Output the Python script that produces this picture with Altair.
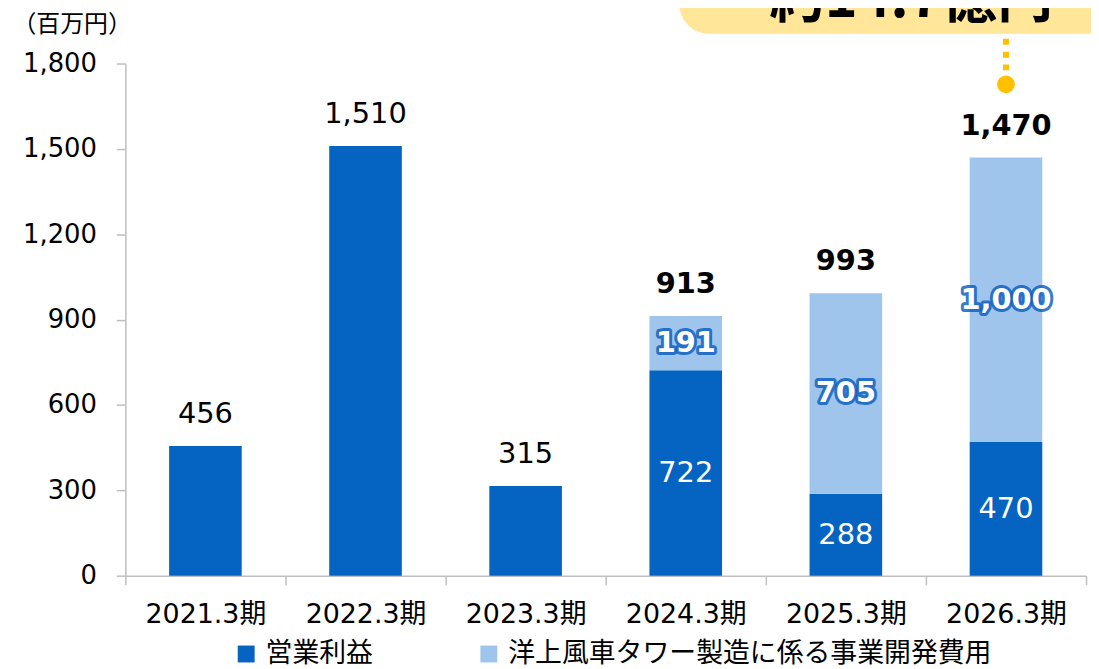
import altair as alt
import pandas as pd

categories = ["2021.3期", "2022.3期", "2023.3期", "2024.3期", "2025.3期", "2026.3期"]
operating_profit = [456, 1510, 315, 722, 288, 470]
dev_cost = [0, 0, 0, 191, 705, 1000]
totals = [456, 1510, 315, 913, 993, 1470]
series_names = ["営業利益", "洋上風車タワー製造に係る事業開発費用"]
series_colors = ["#0563C1", "#A0C5ED"]
y_ticks = [0, 300, 600, 900, 1200, 1500, 1800]
y_unit = "（百万円）"
callout_text = "約14.7億円"
callout_category = "2026.3期"
marker_value = 1727
dots_from = 1887
dots_to = 1776

FONT = "DejaVu Sans, Noto Sans CJK JP"
CJK = "Noto Sans CJK JP, DejaVu Sans"
DARK, LIGHT = series_colors
YELLOW = "#FFC000"

rows = []
for i, c in enumerate(categories):
    op = operating_profit[i]
    dc = dev_cost[i]
    rows.append(dict(cat=c, series=series_names[0], start=0, end=op, value=op,
                     stacked=dc > 0))
    if dc > 0:
        rows.append(dict(cat=c, series=series_names[1], start=op, end=op + dc,
                         value=dc, stacked=True))
seg = pd.DataFrame(rows)
seg["mid"] = (seg["start"] + seg["end"]) / 2
seg["label"] = seg["value"].map(lambda v: f"{v:,}")

tops = pd.DataFrame({
    "cat": categories,
    "total": totals,
    "label": [f"{v:,}" for v in totals],
    "stacked": [d > 0 for d in dev_cost],
})

anno = pd.DataFrame({"cat": [callout_category], "y1": [dots_from], "y2": [dots_to],
                     "dot": [marker_value], "text": [callout_text]})

x_enc = alt.X("cat:N", sort=categories, title=None,
              scale=alt.Scale(paddingInner=0, paddingOuter=0),
              axis=alt.Axis(labelFontSize=27, labelFont=FONT, labelColor="#000000",
                            labelAngle=0, labelPadding=17, tickBand="extent",
                            tickSize=9, tickColor="#BFBFBF", domainColor="#BFBFBF",
                            domainWidth=1.5, tickWidth=1.5))
y_scale = alt.Scale(domain=[0, 1800], nice=False)

bars = alt.Chart(seg).mark_bar(size=73).encode(
    x=x_enc,
    y=alt.Y("start:Q", scale=y_scale, title=y_unit,
            axis=alt.Axis(values=y_ticks, format=",.0f", labelFontSize=26, labelFont=FONT,
                          labelColor="#000000", tickSize=9, labelPadding=20,
                          tickColor="#BFBFBF", domainColor="#BFBFBF", grid=False,
                          domainWidth=1.5, tickWidth=1.5,
                          titleAngle=0, titleX=-114, titleY=-39, titleAlign="left",
                          titleBaseline="middle", titleFontSize=24,
                          titleFontWeight="normal", titleFont=CJK,
                          titleColor="#000000")),
    y2="end:Q",
    color=alt.Color("series:N", scale=alt.Scale(domain=series_names, range=series_colors),
                    legend=alt.Legend(title=None, orient="none", legendX=108, legendY=580,
                                      direction="horizontal", symbolType="square",
                                      symbolSize=289, symbolStrokeWidth=0,
                                      labelFontSize=27, labelFont=CJK, labelLimit=1000,
                                      labelColor="#000000", columnPadding=103,
                                      labelOffset=6, symbolOpacity=1)),
)

top_plain = alt.Chart(tops).transform_filter("!datum.stacked").mark_text(
    fontSize=29, font=FONT, color="#000000", dy=-23, baseline="alphabetic"
).encode(x=alt.X("cat:N", sort=categories), y=alt.Y("total:Q", scale=y_scale), text="label:N")

top_bold = alt.Chart(tops).transform_filter("datum.stacked").mark_text(
    fontSize=29, font=FONT, fontWeight="bold", color="#000000", dy=-23, baseline="alphabetic"
).encode(x=alt.X("cat:N", sort=categories), y=alt.Y("total:Q", scale=y_scale), text="label:N")

inner_dark = alt.Chart(seg).transform_filter(
    f"datum.stacked && datum.series == '{series_names[0]}'"
).mark_text(fontSize=29, font=FONT, color="#FFFFFF", baseline="middle").encode(
    x=alt.X("cat:N", sort=categories), y=alt.Y("mid:Q", scale=y_scale), text="label:N")

light_sel = f"datum.series == '{series_names[1]}'"
inner_light_glow = alt.Chart(seg).transform_filter(light_sel).mark_text(
    fontSize=29, font=FONT, fontWeight="bold", color="#0F62C4", stroke="#0F62C4",
    strokeWidth=6, strokeOpacity=0.85, strokeJoin="round", baseline="middle"
).encode(x=alt.X("cat:N", sort=categories), y=alt.Y("mid:Q", scale=y_scale), text="label:N")
inner_light = alt.Chart(seg).transform_filter(light_sel).mark_text(
    fontSize=29, font=FONT, fontWeight="bold", color="#FFFFFF", baseline="middle"
).encode(x=alt.X("cat:N", sort=categories), y=alt.Y("mid:Q", scale=y_scale), text="label:N")

dots = alt.Chart(anno).mark_rule(color=YELLOW, strokeWidth=6, strokeDash=[6, 7]).encode(
    x=alt.X("cat:N", sort=categories), y=alt.Y("y1:Q", scale=y_scale), y2="y2:Q")
marker = alt.Chart(anno).mark_point(filled=True, shape="circle", size=320, color=YELLOW,
                                    opacity=1).encode(
    x=alt.X("cat:N", sort=categories), y=alt.Y("dot:Q", scale=y_scale))

box = alt.Chart(anno).mark_rect(color="#FFE699", cornerRadius=30).encode(
    x=alt.value(557), x2=alt.value(1060), y=alt.value(-100), y2=alt.value(-30))
box_text = alt.Chart(anno).mark_text(fontSize=56, font=CJK, fontWeight="bold",
                                     color="#000000", baseline="alphabetic").encode(
    x=alt.value(790), y=alt.value(-47), text="text:N")

chart = alt.layer(
    box, box_text, bars, top_plain, top_bold, inner_dark, inner_light_glow, inner_light,
    dots, marker
).properties(
    width=966, height=515,
    padding={"left": 118, "top": 54, "right": 5, "bottom": 91},
    autosize=alt.AutoSizeParams(type="none"),
).configure_view(stroke=None)

chart.save("out.html", embed_options={"renderer": "svg", "actions": False})
